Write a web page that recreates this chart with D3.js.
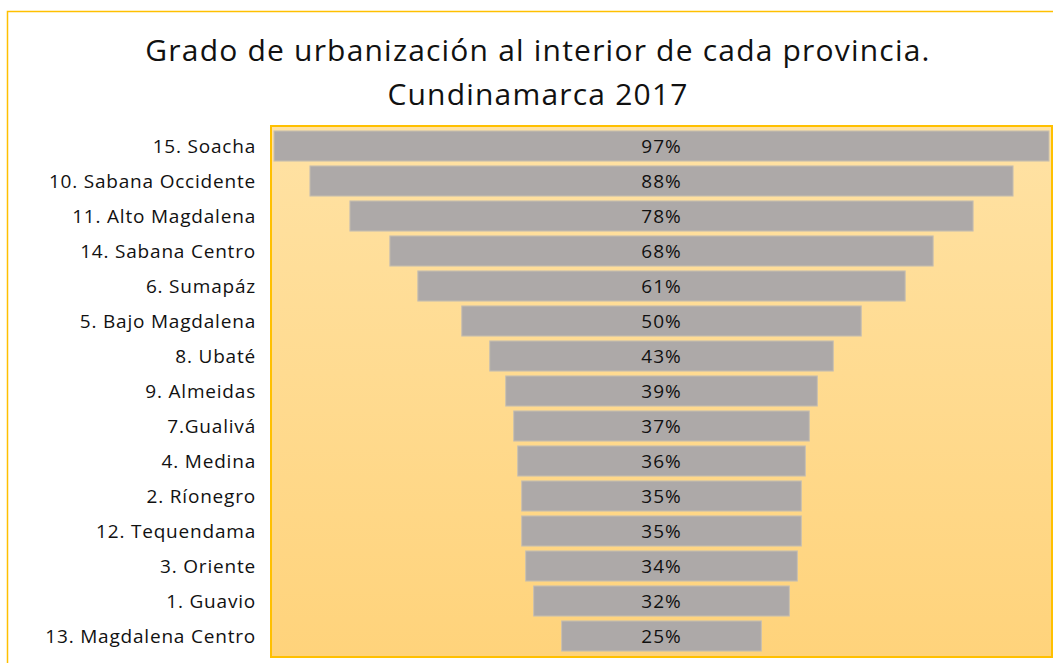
<!DOCTYPE html>
<html lang="es">
<head>
  <meta charset="UTF-8">
  <title>Grado de urbanización</title>
  <script src="https://cdn.jsdelivr.net/npm/d3@7/dist/d3.min.js"></script>
  <style>
    body { margin: 0; background: #fff; }
    text { font-family: "Open Sans", sans-serif; fill: #111; }
  </style>
</head>
<body>
  <script>
    // datos
    var provincias = ['15. Soacha', '10. Sabana Occidente', '11. Alto Magdalena', '14. Sabana Centro',
      '6. Sumapáz', '5. Bajo Magdalena', '8. Ubaté', '9. Almeidas', '7.Gualivá', '4. Medina',
      '2. Ríonegro', '12. Tequendama', '3. Oriente', '1. Guavio', '13. Magdalena Centro']
    var urbanizacion = [97, 88, 78, 68, 61, 50, 43, 39, 37, 36, 35, 35, 34, 32, 25]
    var titulo = ['Grado de urbanización al interior de cada provincia.', 'Cundinamarca 2017']

    var w = 1053, h = 663
    var plot = { x: 271, y: 126, w: 781, h: 531 }
    var centro = 661.5

    var svg = d3.select('body').append('svg').attr('width', w).attr('height', h)

    // degradado del fondo
    var grad = svg.append('defs').append('linearGradient').attr('id', 'fondo')
      .attr('x1', 0).attr('y1', 0).attr('x2', 0).attr('y2', 1)
    grad.append('stop').attr('offset', '0%').attr('stop-color', '#FFE2A4')
    grad.append('stop').attr('offset', '100%').attr('stop-color', '#FFD37B')

    // marco exterior
    svg.append('rect').attr('x', 7.5).attr('y', 11.5).attr('width', 1070).attr('height', 700)
      .attr('fill', '#fff').attr('stroke', '#FFC000').attr('stroke-width', 1.5)

    svg.append('rect').attr('x', plot.x).attr('y', plot.y).attr('width', plot.w).attr('height', plot.h)
      .attr('fill', 'url(#fondo)').attr('stroke', '#FFC000').attr('stroke-width', 2)

    // titulo
    svg.selectAll('.titulo').data(titulo).enter().append('text')
      .attr('class', 'titulo')
      .attr('x', 538).attr('y', function (d, i) { return 61 + i * 44 })
      .attr('text-anchor', 'middle')
      .attr('font-size', '30px')
      .attr('letter-spacing', '1.2px')
      .text(function (d) { return d })

    var yScale = d3.scaleBand().domain(provincias).range([128.5, 653.5])
      .paddingInner(0.14).paddingOuter(0.07)
    var xScale = d3.scaleLinear().domain([0, 100]).range([0, 799])

    // barras centradas (embudo)
    svg.selectAll('.barra').data(urbanizacion).enter().append('rect')
      .attr('class', 'barra')
      .attr('x', function (d) { return centro - xScale(d) / 2 })
      .attr('y', function (d, i) { return yScale(provincias[i]) })
      .attr('width', function (d) { return xScale(d) })
      .attr('height', yScale.bandwidth())
      .attr('fill', '#ADA9A8')
      .attr('stroke', '#C9C0B0')
      .attr('stroke-width', 1)

    svg.selectAll('.valor').data(urbanizacion).enter().append('text')
      .attr('class', 'valor')
      .attr('x', centro)
      .attr('y', function (d, i) { return yScale(provincias[i]) + yScale.bandwidth() / 2 })
      .attr('dy', '0.36em')
      .attr('text-anchor', 'middle')
      .attr('font-size', '19px')
      .attr('letter-spacing', '1px')
      .text(function (d) { return d + '%' })

    // eje de categorias
    var eje = svg.append('g').attr('transform', 'translate(' + (plot.x - 15) + ',0)')
      .call(d3.axisLeft(yScale).tickSize(0).tickPadding(0))
    eje.select('.domain').remove()
    eje.selectAll('text').attr('font-size', '19px').attr('fill', '#111')
      .attr('dy', '0.36em')
      .attr('letter-spacing', '0.8px')
      .style('font-family', '"Open Sans", sans-serif')
  </script>
</body>
</html>
